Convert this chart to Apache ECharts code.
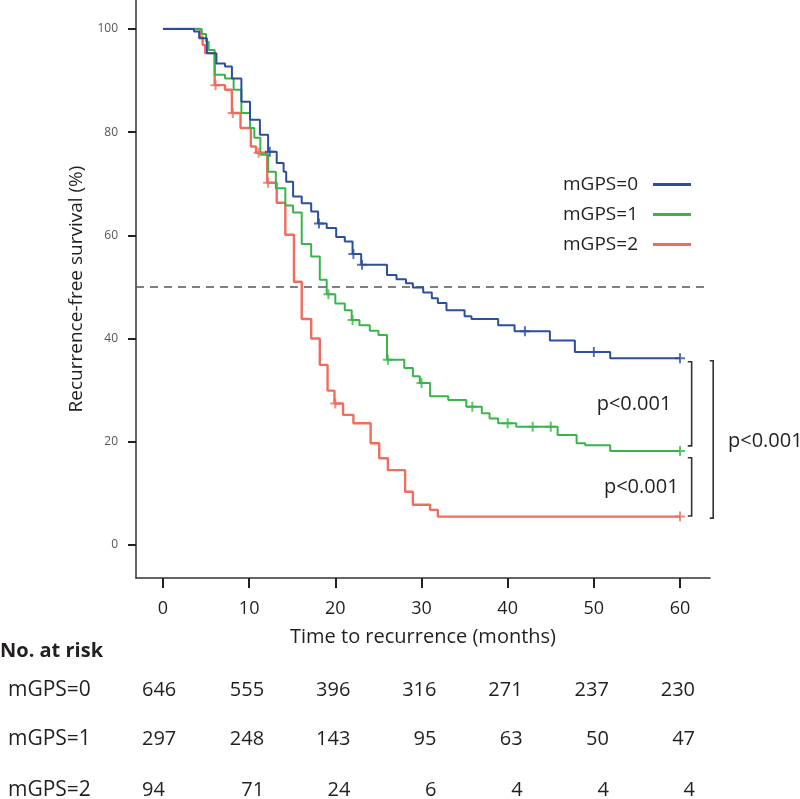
<!DOCTYPE html>
<html>
<head>
<meta charset="utf-8">
<script src="https://cdn.jsdelivr.net/npm/echarts@6/dist/echarts.min.js"></script>
<style>
html,body{margin:0;padding:0;background:#fff;}
#chart{width:800px;height:799px;}
</style>
</head>
<body>
<div id="chart"></div>
<script>
// ---- data ----
const groupNames = ['mGPS=0', 'mGPS=1', 'mGPS=2'];

const blueTimes = [0,3.6,4.2,5.1,6.2,7.2,8.0,9.1,10.1,11.25,12.2,13.2,14.0,14.3,15.1,16.1,17.2,18.0,19.0,20.1,21.1,22.0,23.0,26.0,27.1,28.2,29.0,30.2,31.2,31.9,32.9,35.0,35.8,38.9,40.8,44.9,47.8,51.9,60];
const blueSurv  = [100,99.5,98.2,95.3,93.3,92.7,90.4,85.9,82.4,79.5,76.2,74.0,72.3,70.4,67.5,66.2,64.6,62.3,61.4,59.7,58.8,56.4,54.3,52.3,51.5,50.7,49.9,48.9,47.8,46.9,45.5,44.3,43.8,42.6,41.4,39.6,37.4,36.2,36.2];

const greenTimes = [0,4.5,5.0,5.3,6.0,7.2,8.2,9.1,10.1,10.6,11.3,12.2,13.1,14.2,15.1,16.1,17.2,18.2,19.0,20.0,21.1,21.9,22.8,24.0,25.0,26.0,28.0,29.0,29.8,31.0,33.1,35.2,37.0,37.9,38.9,41.0,45.8,48.0,49.0,51.9,60];
const greenSurv  = [100,99,97.5,95.9,91.1,90.4,88.2,83.7,80.8,78.9,75.6,72.3,69.1,65.8,64.4,58.3,55.9,51.4,48.6,46.8,45.5,43.6,42.6,41.5,40.7,35.9,34.3,32.7,31.4,28.8,28.1,26.8,25.5,24.5,23.6,22.9,21.3,19.7,19.3,18.2,18.2];

const redTimes = [0,4.3,4.6,4.9,6.0,7.2,8.0,9.0,10.2,10.8,12.1,13.2,14.2,15.2,16.1,17.2,18.2,19.1,19.9,20.9,22.1,24.1,25.1,26.1,28.1,29.0,31.0,31.9,60];
const redSurv  = [100,98.5,96.9,95.3,89.1,88.2,83.7,80.8,77.2,76.0,70.2,66.3,60.1,51.0,43.8,40.0,34.9,29.9,27.4,25.2,23.6,19.7,16.8,14.5,10.3,7.8,6.8,5.5,5.5];

const blueCensorT  = [12.4,18.1,22.1,23.1,42.0,50.0,60];
const blueCensorS  = [76.2,62.3,56.4,54.3,41.4,37.4,36.2];
const greenCensorT = [19.2,22.0,26.1,30.0,35.9,40.0,42.9,45.0,60];
const greenCensorS = [48.6,43.6,35.9,31.4,26.8,23.6,22.9,22.9,18.2];
const redCensorT   = [6.1,8.1,11.1,12.2,20.0,60];
const redCensorS   = [89.1,83.7,76.0,70.2,27.4,5.5];

const xTicks = [0,10,20,30,40,50,60];
const yTicks = [0,20,40,60,80,100];
const refLine = 50;

const riskTimes = [0,10,20,30,40,50,60];
const risk0 = [646,555,396,316,271,237,230];
const risk1 = [297,248,143,95,63,50,47];
const risk2 = [94,71,24,6,4,4,4];
const riskRows = [risk0, risk1, risk2];

const pLabel = 'p<0.001';
// bracket spans in survival units (between curve ends)
const brackets = [
  {top: 35.5, bottom: 19.2, label: pLabel},
  {top: 16.9, bottom: 5.6, label: pLabel},
  {top: 35.7, bottom: 5.2, label: pLabel}
];

// ---- build ----
const colors = ['#2d4e9e', '#38b54a', '#f06c5c'];
const FONT = 'Open Sans';
function zip(a, b){ return a.map((v,i)=>[v,b[i]]); }
const plusSym = 'path://M4,0H6V4H10V6H6V10H4V6H0V4H4Z';

const chart = echarts.init(document.getElementById('chart'), null, {renderer:'canvas'});

const curves = [zip(blueTimes, blueSurv), zip(greenTimes, greenSurv), zip(redTimes, redSurv)];
const censors = [zip(blueCensorT, blueCensorS), zip(greenCensorT, greenCensorS), zip(redCensorT, redCensorS)];

const series = [];
curves.forEach((d, i) => {
  const s = {
    name: groupNames[i], type: 'line', step: 'end', data: d,
    showSymbol: false, symbol: 'none', animation: false,
    lineStyle: {color: colors[i], width: i === 2 ? 2.4 : 2},
    itemStyle: {color: colors[i]},
    z: 3 - i + 2
  };
  if (i === 0) {
    s.markLine = {
      silent: true, symbol: 'none', animation: false,
      label: {show: false},
      lineStyle: {color: '#555', type: [8, 6], width: 1.6},
      data: [{yAxis: refLine}]
    };
  }
  series.push(s);
});
censors.forEach((d, i) => {
  series.push({
    name: groupNames[i] + ' censored', type: 'scatter', data: d,
    symbol: plusSym, symbolSize: 10, animation: false,
    itemStyle: {color: colors[i]}, z: 6
  });
});

chart.setOption({
  animation: false,
  backgroundColor: '#fff',
  grid: {left: 136, right: 90, top: 0, bottom: 221, containLabel: false},
  xAxis: {
    type: 'value', min: -3.13, max: 63.48,
    axisLine: {show: true, onZero: false, lineStyle: {color: '#333', width: 1.5}},
    axisTick: {show: true, customValues: xTicks, length: 10, lineStyle: {color: '#222', width: 2}},
    axisLabel: {show: true, customValues: xTicks, margin: 22, fontSize: 18, color: '#231f20', fontFamily: FONT},
    splitLine: {show: false},
    name: 'Time to recurrence (months)', nameLocation: 'middle', nameGap: 49,
    nameTextStyle: {fontSize: 20, color: '#231f20', fontFamily: FONT}
  },
  yAxis: {
    type: 'value', min: -6.4, max: 105.6,
    axisLine: {show: true, onZero: false, lineStyle: {color: '#333', width: 1.5}},
    axisTick: {show: true, customValues: yTicks, length: 8, lineStyle: {color: '#222', width: 2}},
    axisLabel: {show: true, customValues: yTicks, margin: 18, fontSize: 12, color: '#555', fontFamily: FONT},
    splitLine: {show: false},
    name: 'Recurrence-free survival (%)', nameLocation: 'middle', nameGap: 47, nameRotate: 90,
    nameTextStyle: {fontSize: 19, color: '#231f20', fontFamily: FONT}
  },
  legend: {
    data: groupNames, orient: 'vertical', align: 'right',
    right: 104, top: 170, itemGap: 11, itemWidth: 38, itemHeight: 3,
    icon: 'rect',
    textStyle: {fontSize: 19, color: '#231f20', fontFamily: FONT, padding: [0, 10, 0, 0]},
    selectedMode: false
  },
  series: series
});

// ---- annotations (positioned via the axes) ----
function px(x, y){ return chart.convertToPixel({gridIndex: 0}, [x, y]); }
const g = [];
const bx = [[60.9, 61.35], [60.9, 61.35], [63.45, 63.85]];
brackets.forEach((b, i) => {
  const xl = px(bx[i][0], 0)[0], xr = px(bx[i][1], 0)[0];
  const yt = px(0, b.top)[1], yb = px(0, b.bottom)[1];
  g.push({type: 'polyline', shape: {points: [[xl, yt], [xr, yt], [xr, yb], [xl, yb]]},
    style: {stroke: '#333', lineWidth: 1.6, fill: null}, silent: true});
});
const t1 = px(0, (brackets[0].top + brackets[0].bottom)/2);
const t2 = px(0, (brackets[1].top + brackets[1].bottom)/2);
const t3 = px(0, (brackets[2].top + brackets[2].bottom)/2 - 0.3);
const pStyle = {text: pLabel, fontSize: 20, fontFamily: FONT, fill: '#231f20', verticalAlign: 'middle'};
g.push({type: 'text', x: px(54.66, 0)[0], y: t1[1], style: Object.assign({}, pStyle, {align: 'center'})});
g.push({type: 'text', x: px(55.5, 0)[0], y: t2[1], style: Object.assign({}, pStyle, {align: 'center'})});
g.push({type: 'text', x: 728, y: t3[1], style: Object.assign({}, pStyle, {align: 'left'})});

// risk table
g.push({type: 'text', x: 0, y: 651, style: {text: 'No. at risk', fontSize: 20, fontWeight: 'bold', fontFamily: FONT, fill: '#231f20', align: 'left', verticalAlign: 'middle'}});
const rowY = [690, 739, 790];
riskRows.forEach((row, r) => {
  g.push({type: 'text', x: 8, y: rowY[r], style: {text: groupNames[r], fontSize: 21, fontFamily: FONT, fill: '#231f20', align: 'left', verticalAlign: 'middle'}});
  row.forEach((v, c) => {
    const cx = px(riskTimes[c], 0)[0];
    const first = c === 0;
    g.push({type: 'text', x: first ? cx - 21 : cx + 15, y: rowY[r],
      style: {text: String(v), fontSize: 20, fontFamily: FONT, fill: '#231f20', align: first ? 'left' : 'right', verticalAlign: 'middle'}});
  });
});
chart.setOption({graphic: g});
</script>
</body>
</html>
